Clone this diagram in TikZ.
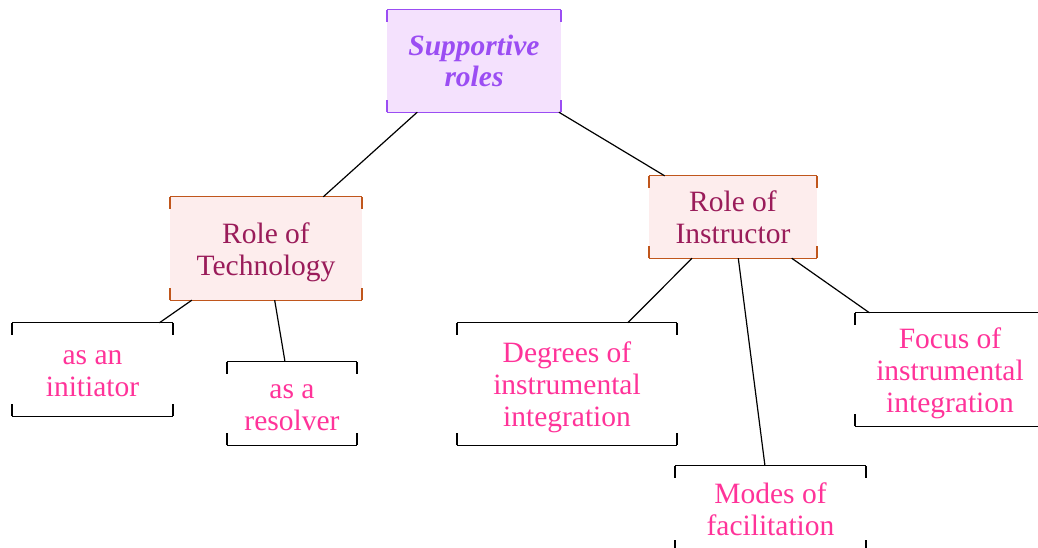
\documentclass[tikz,border=0pt]{standalone}
\usepackage{fontspec}
\setmainfont{Liberation Serif}
\definecolor{rootfill}{HTML}{F4E1FD}
\definecolor{rootink}{HTML}{9B4DF3}
\definecolor{rolefill}{HTML}{FDEDED}
\definecolor{roleline}{HTML}{C0561C}
\definecolor{roletext}{HTML}{9A1C5A}
\definecolor{leaftext}{HTML}{FF3399}
\tikzset{
  box/.style={rectangle, inner sep=0pt, align=center},
  rootbox/.style={box, fill=rootfill, text=rootink,
    font=\fontsize{29.5}{31}\selectfont\bfseries\itshape},
  rolebox/.style={box, fill=rolefill, text=roletext,
    font=\fontsize{29.5}{32}\selectfont},
  leafbox/.style={box, text=leaftext,
    font=\fontsize{29.5}{32}\selectfont},
  link/.style={draw=black, line width=1.2pt},
  frame line/.style={line width=1.1pt},
  frame tick/.style={line width=2pt},
}
% fixed height for the first line and depth for the last one,
% so every label sits the same way inside its box
\newcommand\labeltext[1]{\rule{0pt}{30pt}#1\rule[-9pt]{0pt}{9pt}}
% top and bottom rules with short corner ticks around a node
\newcommand\bracketframe[2]{%
  \draw[frame line, #2] (#1.north west) -- (#1.north east)
                        (#1.south west) -- (#1.south east);
  \draw[frame tick, #2] (#1.north west) -- ++(0,12) (#1.north east) -- ++(0,12)
                        (#1.south west) -- ++(0,-12) (#1.south east) -- ++(0,-12);
}
\begin{document}
\begin{tikzpicture}[x=1pt, y=-1pt]
\useasboundingbox (0,0) rectangle (1038,548);

\node[rootbox, minimum width=174pt, minimum height=102pt] (root) at (474,61) {\labeltext{Supportive\\roles}};

\node[rolebox, minimum width=192pt, minimum height=103pt] (tech) at (266,248.5) {\labeltext{Role of\\Technology}};
\node[rolebox, minimum width=168pt, minimum height=82pt] (instr) at (733,217) {\labeltext{Role of\\Instructor}};

\node[leafbox, minimum width=161pt, minimum height=93pt] (init) at (92.5,369.5) {\labeltext{as an\\initiator}};
\node[leafbox, minimum width=130pt, minimum height=83pt] (resol) at (292,403.5) {\labeltext{as a\\resolver}};
\node[leafbox, minimum width=220pt, minimum height=122pt] (degr) at (567,384) {\labeltext{Degrees of\\instrumental\\integration}};
\node[leafbox, minimum width=191pt, minimum height=86pt] (modes) at (770.5,509) {\labeltext{Modes of\\facilitation}};
\node[leafbox, minimum width=190pt, minimum height=113pt] (focus) at (950,369.5) {\labeltext{Focus of\\instrumental\\integration}};

\bracketframe{root}{rootink}
\bracketframe{tech}{roleline}
\bracketframe{instr}{roleline}
\foreach \n in {init,resol,degr,modes,focus}{\bracketframe{\n}{black}}

\draw[link] (root) -- (tech);
\draw[link] (root) -- (instr);
\draw[link] (tech) -- (init);
\draw[link] (tech) -- (resol);
\draw[link] (instr) -- (degr);
\draw[link] (instr) -- (modes);
\draw[link] (instr) -- (focus);
\end{tikzpicture}
\end{document}
